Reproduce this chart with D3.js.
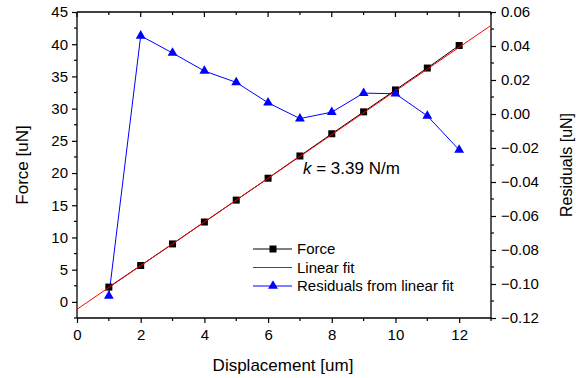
<!DOCTYPE html>
<html>
<head>
<meta charset="utf-8">
<script src="https://cdn.jsdelivr.net/npm/d3@7"></script>
<style>
  html, body { margin: 0; padding: 0; background: #fff; }
  svg text { font-family: "Liberation Sans", Arial, sans-serif; fill: #000; }
</style>
</head>
<body>
<svg id="chart" width="576" height="378"></svg>
<script>
// ---- Data ----
const displacement = [1, 2, 3, 4, 5, 6, 7, 8, 9, 10, 11, 12];
const force = [2.3, 5.65, 9.0, 12.4, 15.8, 19.2, 22.65, 26.1, 29.5, 32.9, 36.3, 39.8];
const residuals = [-0.107, 0.046, 0.0359, 0.0253, 0.0186, 0.0066, -0.0027, 0.0011, 0.0123, 0.0119, -0.0011, -0.0211];
const fitSlope = 3.39;
const fitIntercept = -1.15;
const fitRange = [0, 13];
const xTicks = [0, 2, 4, 6, 8, 10, 12];
const yLeftTicks = [0, 5, 10, 15, 20, 25, 30, 35, 40, 45];
const yRightTicks = [-0.12, -0.10, -0.08, -0.06, -0.04, -0.02, 0.00, 0.02, 0.04, 0.06];
const legendLabels = ["Force", "Linear fit", "Residuals from linear fit"];
const annotation = "= 3.39 N/m";

// ---- Layout ----
const svg = d3.select("#chart");
const L = 77, R = 491, T = 12, B = 318;

const x = d3.scaleLinear().domain([0, 13]).range([L, R]);
const yL = d3.scaleLinear().domain([-2.5, 45]).range([B, T]);
const yR = d3.scaleLinear().domain([-0.12, 0.06]).range([B, T]);

const tickFont = "15px";

// frame lines
const frame = svg.append("g").attr("stroke", "#000").attr("stroke-width", 1.3);
frame.append("line").attr("x1", L).attr("x2", R).attr("y1", T).attr("y2", T);
frame.append("line").attr("x1", L).attr("x2", R).attr("y1", B).attr("y2", B);
frame.append("line").attr("x1", L).attr("x2", L).attr("y1", T).attr("y2", B);
frame.append("line").attr("x1", R).attr("x2", R).attr("y1", T).attr("y2", B);

// bottom axis
const minorX = d3.range(0, 14, 1);
const gx = svg.append("g").attr("transform", `translate(0,${B})`)
  .call(d3.axisBottom(x).tickValues(xTicks).tickSize(5).tickPadding(6).tickFormat(d3.format("d")));
gx.select(".domain").remove();
gx.selectAll(".tick text").style("font-size", tickFont).attr("font-family", "Liberation Sans, Arial, sans-serif");
gx.selectAll(".tick line").attr("stroke-width", 1.2);
svg.append("g").selectAll("line").data(minorX.filter(d => !xTicks.includes(d))).join("line")
  .attr("x1", d => x(d)).attr("x2", d => x(d)).attr("y1", B).attr("y2", B + 3)
  .attr("stroke", "#000").attr("stroke-width", 1.2);

// top axis (inward ticks)
svg.append("g").selectAll("line").data(minorX).join("line")
  .attr("x1", d => x(d)).attr("x2", d => x(d)).attr("y1", T).attr("y2", d => T + (d % 2 === 0 ? 5 : 3))
  .attr("stroke", "#000").attr("stroke-width", 1.2);

// left axis
const gyl = svg.append("g").attr("transform", `translate(${L},0)`)
  .call(d3.axisLeft(yL).tickValues(yLeftTicks).tickSize(5).tickPadding(4).tickFormat(d3.format("d")));
gyl.select(".domain").remove();
gyl.selectAll(".tick text").style("font-size", tickFont).attr("font-family", "Liberation Sans, Arial, sans-serif");
gyl.selectAll(".tick line").attr("stroke-width", 1.2);
const minorYL = d3.range(-2.5, 45, 5);
svg.append("g").selectAll("line").data(minorYL).join("line")
  .attr("x1", L - 3).attr("x2", L).attr("y1", d => yL(d)).attr("y2", d => yL(d))
  .attr("stroke", "#000").attr("stroke-width", 1.2);

// right axis
const gyr = svg.append("g").attr("transform", `translate(${R},0)`)
  .call(d3.axisRight(yR).tickValues(yRightTicks).tickSize(5).tickPadding(5).tickFormat(d3.format(".2f")));
gyr.select(".domain").remove();
gyr.selectAll(".tick text").style("font-size", tickFont).attr("font-family", "Liberation Sans, Arial, sans-serif");
gyr.selectAll(".tick line").attr("stroke-width", 1.2);
const minorYR = d3.range(-0.11, 0.06, 0.02);
svg.append("g").selectAll("line").data(minorYR).join("line")
  .attr("x1", R).attr("x2", R + 3).attr("y1", d => yR(d)).attr("y2", d => yR(d))
  .attr("stroke", "#000").attr("stroke-width", 1.2);

// axis titles
svg.append("text").attr("x", (L + R) / 2 - 1).attr("y", 371)
  .attr("text-anchor", "middle").style("font-size", "17px").text("Displacement [um]");
svg.append("text").attr("transform", `translate(28,${(T + B) / 2}) rotate(-90)`)
  .attr("text-anchor", "middle").style("font-size", "17px").text("Force [uN]");
svg.append("text").attr("transform", `translate(572,${(T + B) / 2}) rotate(-90)`)
  .attr("text-anchor", "middle").style("font-size", "16px").text("Residuals [uN]");

// clip
svg.append("clipPath").attr("id", "clip").append("rect")
  .attr("x", L).attr("y", T).attr("width", R - L).attr("height", B - T);

// residuals series
const resData = displacement.map((d, i) => [d, residuals[i]]);
svg.append("path").datum(resData)
  .attr("fill", "none").attr("stroke", "#0000ff").attr("stroke-width", 1)
  .attr("d", d3.line().x(d => x(d[0])).y(d => yR(d[1])));

// force series line (black)
const forceData = displacement.map((d, i) => [d, force[i]]);
svg.append("path").datum(forceData)
  .attr("fill", "none").attr("stroke", "#000").attr("stroke-width", 1)
  .attr("d", d3.line().x(d => x(d[0])).y(d => yL(d[1])));

// force markers
svg.append("g").selectAll("rect").data(forceData).join("rect")
  .attr("x", d => x(d[0]) - 3.5).attr("y", d => yL(d[1]) - 3.5)
  .attr("width", 7).attr("height", 7).attr("fill", "#000");

// linear fit
const fitData = fitRange.map(d => [d, fitIntercept + fitSlope * d]);
svg.append("path").datum(fitData).attr("clip-path", "url(#clip)")
  .attr("fill", "none").attr("stroke", "#ff0000").attr("stroke-width", 1)
  .attr("d", d3.line().x(d => x(d[0])).y(d => yL(d[1])));

// residual markers (triangles)
const tri = d3.symbol().type(d3.symbolTriangle).size(42);
svg.append("g").selectAll("path").data(resData).join("path")
  .attr("transform", d => `translate(${x(d[0])},${yR(d[1])})`)
  .attr("d", tri).attr("fill", "#0000ff");

// annotation
const ann = svg.append("text").attr("x", 303).attr("y", 174).style("font-size", "17px");
ann.append("tspan").attr("font-style", "italic").text("k");
ann.append("tspan").text(" " + annotation);

// legend
const lg = svg.append("g");
const rows = [249, 267.5, 286];
const colors = ["#000", "#ff0000", "#0000ff"];
legendLabels.forEach((lab, i) => {
  lg.append("line").attr("x1", 253).attr("x2", 292).attr("y1", rows[i]).attr("y2", rows[i])
    .attr("stroke", colors[i]).attr("stroke-width", 1);
  lg.append("text").attr("x", 297).attr("y", rows[i]).attr("dy", "0.35em")
    .style("font-size", "15px").text(lab);
});
lg.append("rect").attr("x", 273 - 3.5).attr("y", rows[0] - 3.5).attr("width", 7).attr("height", 7).attr("fill", "#000");
lg.append("path").attr("transform", `translate(273,${rows[2]})`).attr("d", tri).attr("fill", "#0000ff");
</script>
</body>
</html>
